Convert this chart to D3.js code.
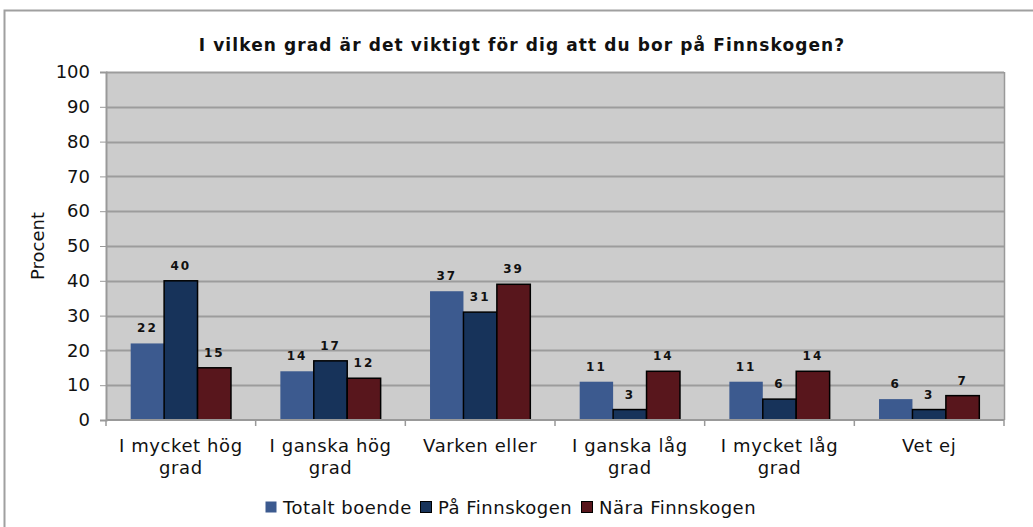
<!DOCTYPE html>
<html>
<head>
<meta charset="utf-8">
<script src="https://cdn.jsdelivr.net/npm/d3@7"></script>
<style>
  body { margin: 0; background: #fff; }
  text { font-family: "DejaVu Sans", Verdana, sans-serif; }
</style>
</head>
<body>
<script>
var categories = [["I mycket hög", "grad"], ["I ganska hög", "grad"], ["Varken eller"], ["I ganska låg", "grad"], ["I mycket låg", "grad"], ["Vet ej"]]
var seriesNames = ["Totalt boende", "På Finnskogen", "Nära Finnskogen"]
var totalt = [22, 14, 37, 11, 11, 6]
var paFinnskogen = [40, 17, 31, 3, 6, 3]
var naraFinnskogen = [15, 12, 39, 14, 14, 7]
var yTicks = [0, 10, 20, 30, 40, 50, 60, 70, 80, 90, 100]
var colors = ["#3c5a8f", "#17335a", "#58161c"]
var series = [totalt, paFinnskogen, naraFinnskogen]

var width = 1033, height = 527
var margin = {top: 72, right: 29, bottom: 107, left: 106}
var plotW = width - margin.left - margin.right,
    plotH = height - margin.top - margin.bottom

var svg = d3.select("body").append("svg")
    .attr("width", width)
    .attr("height", height)

// outer chart border
svg.append("rect")
    .attr("x", 4.5).attr("y", 10.5)
    .attr("width", 1040).attr("height", 540)
    .attr("fill", "none")
    .attr("stroke", "#a0a0a0")
    .attr("stroke-width", 2)

svg.append("text")
    .attr("x", 522).attr("y", 51)
    .attr("text-anchor", "middle")
    .attr("font-size", "17px")
    .attr("font-weight", "bold")
    .attr("letter-spacing", "1.1px")
    .attr("fill", "#111")
    .text("I vilken grad är det viktigt för dig att du bor på Finnskogen?")

var g = svg.append("g")
    .attr("transform", "translate(" + margin.left + "," + margin.top + ")")

var x0 = d3.scaleBand()
    .domain(d3.range(categories.length))
    .range([0, plotW])
    .paddingInner(0.33)
    .paddingOuter(0.165)

var x1 = d3.scaleBand()
    .domain(d3.range(series.length))
    .range([0, x0.bandwidth()])

var y = d3.scaleLinear()
    .domain([0, 100])
    .range([plotH, 0])

g.append("rect")
    .attr("width", plotW).attr("height", plotH)
    .attr("fill", "#cccccc")

g.selectAll(".grid")
  .data(yTicks.slice(1))
  .enter().append("line")
    .attr("class", "grid")
    .attr("x1", 0).attr("x2", plotW)
    .attr("y1", function(d) { return Math.round(y(d)) + 0.5 })
    .attr("y2", function(d) { return Math.round(y(d)) + 0.5 })
    .attr("stroke", "#9c9c9c")
    .attr("stroke-width", 2)

// plot frame (right side)
g.append("line")
    .attr("x1", plotW + 0.5).attr("x2", plotW + 0.5)
    .attr("y1", 0).attr("y2", plotH)
    .attr("stroke", "#999").attr("stroke-width", 1.5)

var groups = g.selectAll(".cat")
  .data(categories.map(function(c, i) { return i }))
  .enter().append("g")
    .attr("transform", function(i) { return "translate(" + x0(i) + ",0)" })

groups.selectAll("rect")
  .data(function(i) { return series.map(function(s, k) { return {k: k, v: s[i]} }) })
  .enter().append("rect")
    .attr("x", function(d) { return x1(d.k) })
    .attr("y", function(d) { return y(d.v) })
    .attr("width", x1.bandwidth())
    .attr("height", function(d) { return plotH - y(d.v) })
    .attr("fill", function(d) { return colors[d.k] })
    .attr("stroke", function(d) { return d.k === 0 ? "none" : "#000" })
    .attr("stroke-width", 1.5)

groups.selectAll(".lbl")
  .data(function(i) { return series.map(function(s, k) { return {k: k, v: s[i]} }) })
  .enter().append("text")
    .attr("class", "lbl")
    .attr("x", function(d) { return x1(d.k) + x1.bandwidth() / 2 })
    .attr("y", function(d) { return y(d.v) - 11 })
    .attr("text-anchor", "middle")
    .attr("font-family", "Liberation Sans, Arial, sans-serif")
    .attr("font-size", "12px")
    .attr("font-weight", "bold")
    .attr("letter-spacing", "2px")
    .attr("fill", "#111")
    .text(function(d) { return d.v })

// y axis
var yAxis = g.append("g")
    .call(d3.axisLeft(y).tickValues(yTicks).tickSize(6).tickPadding(10))
yAxis.select(".domain").attr("stroke", "#999").attr("stroke-width", 2)
yAxis.selectAll(".tick line").attr("stroke", "#999")
yAxis.selectAll("text").attr("font-size", "18px").attr("fill", "#111")
    .style("font-family", "DejaVu Sans, Verdana, sans-serif")

// x axis
var xAxisG = g.append("g").attr("transform", "translate(0," + plotH + ")")
xAxisG.append("line")
    .attr("x1", 0).attr("x2", plotW)
    .attr("stroke", "#999").attr("stroke-width", 2)
var xEdges = d3.range(categories.length + 1).map(function(i) { return i * plotW / categories.length })
xAxisG.selectAll(".xt")
  .data(xEdges)
  .enter().append("line")
    .attr("x1", function(d) { return d }).attr("x2", function(d) { return d })
    .attr("y1", 0).attr("y2", 6)
    .attr("stroke", "#999").attr("stroke-width", 1.5)

xAxisG.selectAll(".xl")
  .data(categories)
  .enter().append("text")
    .attr("text-anchor", "middle")
    .attr("font-size", "18px")
    .attr("letter-spacing", "0.6px")
    .attr("fill", "#111")
    .attr("transform", function(c, i) { return "translate(" + (x0(i) + x0.bandwidth() / 2) + ",32)" })
    .each(function(c) {
      var t = d3.select(this)
      c.forEach(function(line, j) {
        t.append("tspan").attr("x", 0).attr("dy", j === 0 ? 0 : 22).text(line)
      })
    })

svg.append("text")
    .attr("transform", "translate(44," + (margin.top + plotH / 2) + ") rotate(-90)")
    .attr("text-anchor", "middle")
    .attr("font-size", "18px")
    .attr("fill", "#111")
    .text("Procent")

// legend
var legendX = [265, 420, 581]
var legend = svg.selectAll(".leg")
  .data(seriesNames)
  .enter().append("g")
    .attr("transform", function(d, i) { return "translate(" + legendX[i] + ",501)" })
legend.append("rect")
    .attr("x", 0.5).attr("y", 0.5)
    .attr("width", 11).attr("height", 11)
    .attr("fill", function(d, i) { return colors[i] })
    .attr("stroke", function(d, i) { return i === 0 ? "none" : "#000" })
    .attr("stroke-width", 1)
legend.append("text")
    .attr("x", 18).attr("y", 13)
    .attr("font-size", "18px")
    .attr("letter-spacing", "0.5px")
    .attr("fill", "#111")
    .text(function(d) { return d })
</script>
</body>
</html>
